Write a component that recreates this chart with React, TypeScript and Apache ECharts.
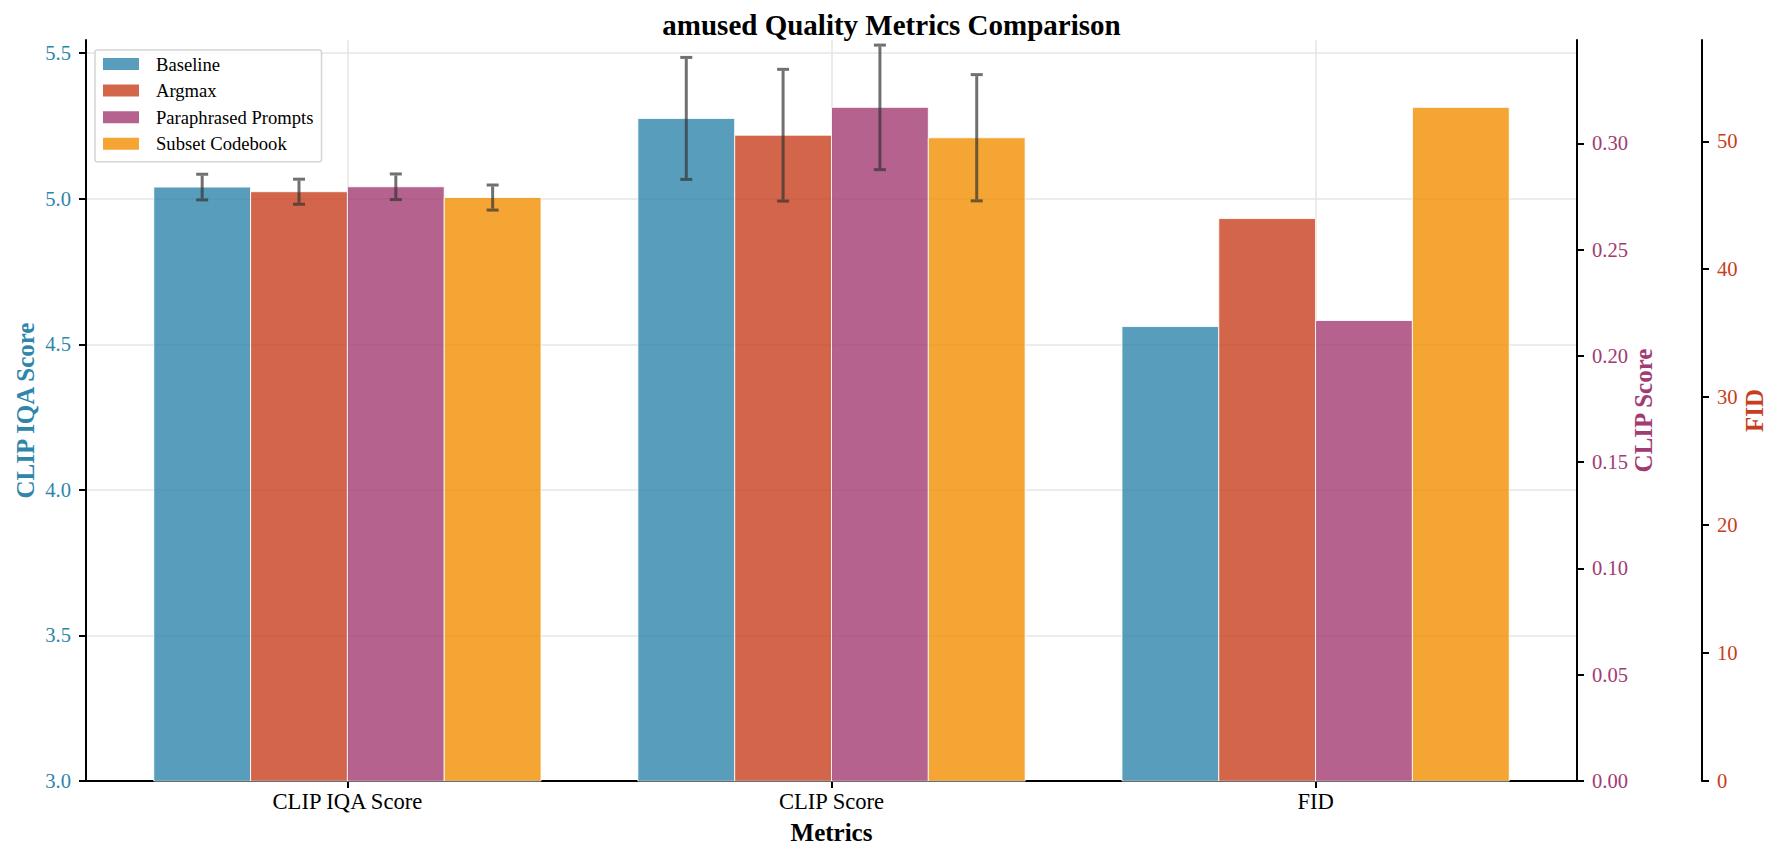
import { useEffect, useRef } from 'react'
import * as echarts from 'echarts'

// metric groups on the x axis
const categories = ['CLIP IQA Score', 'CLIP Score', 'FID']
const methods = ['Baseline', 'Argmax', 'Paraphrased Prompts', 'Subset Codebook']

// values (mean, +/- error)
const clipIqaMean = [5.040, 5.024, 5.041, 5.004]
const clipIqaErr = [0.044, 0.043, 0.044, 0.043]
const clipScoreMean = [0.3118, 0.3039, 0.3170, 0.3027]
const clipScoreErr = [0.0287, 0.0310, 0.0293, 0.0297]
const fidMean = [35.52, 43.96, 35.99, 52.65]
const fidErr = [0, 0, 0, 0]

// tick labels
const clipIqaTicks = [3.0, 3.5, 4.0, 4.5, 5.0, 5.5]
const clipScoreTicks = [0, 0.05, 0.1, 0.15, 0.2, 0.25, 0.3]
const fidTicks = [0, 10, 20, 30, 40, 50]
const categoryTicks = [0, 1, 2]

const colors = [
  'rgba(46,134,171,0.8)',
  'rgba(199,62,29,0.8)',
  'rgba(162,59,114,0.8)',
  'rgba(241,143,1,0.8)'
]
const barOffsets = [-0.3, -0.1, 0.1, 0.3]
const BAR_W = 0.2

const serif = "'Liberation Serif', 'Times New Roman', Times, serif"
const IQA_COLOR = '#2E86AB'
const CLIP_COLOR = '#A23B72'
const FID_COLOR = '#C73E1D'

function renderBar(params: any, api: any) {
  const x = api.value(0)
  const v = api.value(1)
  const e = api.value(2)
  const p0 = api.coord([x - BAR_W / 2, v])
  const p1 = api.coord([x + BAR_W / 2, v])
  const cs = params.coordSys
  const bottom = cs.y + cs.height
  const children: any[] = [
    {
      type: 'rect',
      shape: { x: p0[0], y: p0[1], width: p1[0] - p0[0], height: bottom - p0[1] },
      style: { fill: api.visual('color'), stroke: 'rgba(255,255,255,0.85)', lineWidth: 1 }
    }
  ]
  if (e > 0) {
    const hi = api.coord([x, v + e])
    const lo = api.coord([x, v - e])
    const cap = 6
    const es = { stroke: 'rgba(51,51,51,0.7)', lineWidth: 3 }
    children.push(
      { type: 'line', shape: { x1: hi[0], y1: hi[1] + 1.5, x2: lo[0], y2: lo[1] - 1.5 }, style: es },
      { type: 'line', shape: { x1: hi[0] - cap, y1: hi[1], x2: hi[0] + cap, y2: hi[1] }, style: es },
      { type: 'line', shape: { x1: lo[0] - cap, y1: lo[1], x2: lo[0] + cap, y2: lo[1] }, style: es }
    )
  }
  return { type: 'group', children }
}

const tickStyle = { show: true, length: 7, lineStyle: { color: '#000', width: 2 } }
const spine = { show: true, onZero: false, lineStyle: { color: '#000', width: 2 } }

export default function App() {
  const chartRef = useRef<HTMLDivElement>(null)

  useEffect(() => {
    if (!chartRef.current) return
    document.body.style.margin = '0'
    const chart = echarts.init(chartRef.current, null, { renderer: 'svg' })

    const groups = [
      { mean: clipIqaMean, err: clipIqaErr },
      { mean: clipScoreMean, err: clipScoreErr },
      { mean: fidMean, err: fidErr }
    ]

    const series: any[] = []
    groups.forEach((g, k) => {
      methods.forEach((name, m) => {
        series.push({
          type: 'custom',
          name,
          xAxisIndex: 0,
          yAxisIndex: k,
          renderItem: renderBar,
          itemStyle: { color: colors[m] },
          encode: { x: 0, y: 1 },
          clip: false,
          z: 2,
          data: [[k + barOffsets[m], g.mean[m], g.err[m]]]
        })
      })
    })

    const option: any = {
      animation: false,
      title: {
        text: 'amused Quality Metrics Comparison',
        left: 'center',
        top: 10,
        padding: 0,
        textStyle: { fontFamily: serif, fontWeight: 'bold', fontSize: 29, color: '#000' }
      },
      legend: {
        orient: 'vertical',
        left: 95,
        top: 50,
        itemWidth: 36,
        itemHeight: 12,
        itemGap: 6.6,
        padding: [4, 8, 8, 8],
        borderColor: '#d4d4d4',
        borderWidth: 1.5,
        borderRadius: 2,
        backgroundColor: 'rgba(255,255,255,0.8)',
        textStyle: { fontFamily: serif, fontSize: 18.6, color: '#000', lineHeight: 20, padding: [0, 0, 0, 12] },
        data: methods.map((n) => ({ name: n, icon: 'rect' }))
      },
      grid: { left: 86, right: 206, top: 40, bottom: 81 },
      xAxis: {
        type: 'value',
        min: -0.54,
        max: 2.54,
        name: 'Metrics',
        nameLocation: 'middle',
        nameGap: 39,
        nameMoveOverlap: false,
        nameTextStyle: { fontFamily: serif, fontWeight: 'bold', fontSize: 25, color: '#000' },
        axisLine: spine,
        axisTick: { ...tickStyle, customValues: categoryTicks },
        axisLabel: {
          customValues: categoryTicks,
          margin: 9,
          fontFamily: serif,
          fontSize: 22.6,
          color: '#000',
          formatter: (v: number) => categories[Math.round(v)] ?? ''
        },
        splitLine: { show: true, lineStyle: { color: '#e6e6e6', width: 1.6 } }
      },
      yAxis: [
        {
          type: 'value',
          position: 'left',
          min: 3.0,
          max: Math.max(...clipIqaMean) * 1.1,
          name: 'CLIP IQA Score',
          nameLocation: 'middle',
          nameRotate: 90,
          nameGap: 48,
          nameMoveOverlap: false,
          nameTextStyle: { fontFamily: serif, fontWeight: 'bold', fontSize: 25, color: IQA_COLOR },
          axisLine: spine,
          axisTick: { ...tickStyle, customValues: clipIqaTicks },
          axisLabel: {
            customValues: clipIqaTicks,
            margin: 15,
            fontFamily: serif,
            fontSize: 20.6,
            color: IQA_COLOR,
            formatter: (v: number) => v.toFixed(1)
          },
          splitLine: { show: true, lineStyle: { color: '#e6e6e6', width: 1.6 } }
        },
        {
          type: 'value',
          position: 'right',
          min: 0,
          max: Math.max(...clipScoreMean) * 1.1,
          name: 'CLIP Score',
          nameLocation: 'middle',
          nameRotate: 90,
          nameGap: 54,
          nameMoveOverlap: false,
          nameTextStyle: { fontFamily: serif, fontWeight: 'bold', fontSize: 25, color: CLIP_COLOR },
          axisLine: spine,
          axisTick: { ...tickStyle, customValues: clipScoreTicks },
          axisLabel: {
            customValues: clipScoreTicks,
            margin: 15,
            fontFamily: serif,
            fontSize: 20.6,
            color: CLIP_COLOR,
            formatter: (v: number) => v.toFixed(2)
          },
          splitLine: { show: false }
        },
        {
          type: 'value',
          position: 'right',
          offset: 125,
          min: 0,
          max: Math.max(...fidMean) * 1.1,
          name: 'FID',
          nameLocation: 'middle',
          nameRotate: 90,
          nameGap: 40,
          nameMoveOverlap: false,
          nameTextStyle: { fontFamily: serif, fontWeight: 'bold', fontSize: 25, color: FID_COLOR },
          axisLine: spine,
          axisTick: { ...tickStyle, customValues: fidTicks },
          axisLabel: {
            customValues: fidTicks,
            margin: 15,
            fontFamily: serif,
            fontSize: 20.6,
            color: FID_COLOR,
            formatter: (v: number) => String(Math.round(v))
          },
          splitLine: { show: false }
        }
      ],
      series
    }

    chart.setOption(option)

    return () => {
      chart.dispose()
    }
  }, [])

  return (
    <div
      ref={chartRef}
      style={{ position: 'absolute', left: 0, top: 0, width: '1783px', height: '862px', background: '#fff' }}
    />
  )
}
